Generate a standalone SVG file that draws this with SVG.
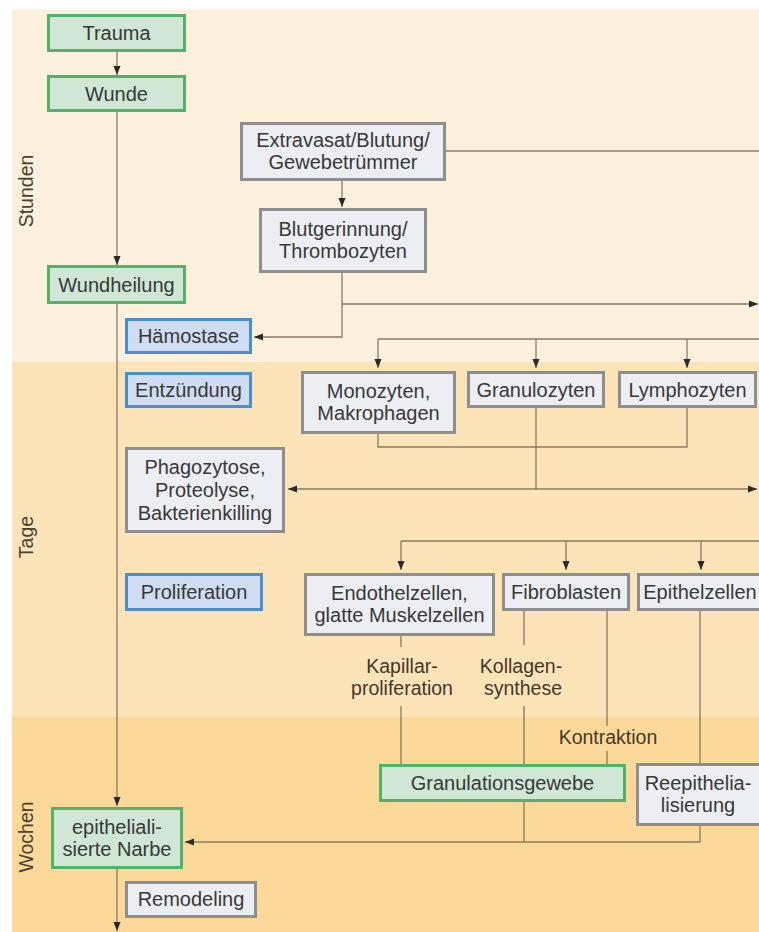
<svg xmlns="http://www.w3.org/2000/svg" width="759" height="932" viewBox="0 0 759 932">
<style>
.txt{font-family:"Liberation Sans",Arial,sans-serif;font-size:20px;fill:#383838;text-anchor:middle}
.lbl{font-family:"Liberation Sans",Arial,sans-serif;font-size:19.5px;fill:#45372a;text-anchor:middle}
.side{font-family:"Liberation Sans",Arial,sans-serif;font-size:19.5px;fill:#4a4232;text-anchor:middle}
.g{fill:#cfe7d4;stroke:#4fb36c;stroke-width:3}
.b{fill:#cfdcf1;stroke:#4a8ed0;stroke-width:3}
.n{fill:#eceef3;stroke:#8e8e8e;stroke-width:3}
.c{fill:none;stroke:#8a7a62;stroke-width:1.3}
</style>
<defs>
<marker id="ah" markerUnits="userSpaceOnUse" markerWidth="9" markerHeight="8" refX="9" refY="4" orient="auto">
<path d="M0,0.5 L9,4 L0,7.5 z" fill="#2a2a2a"/>
</marker>
<marker id="ahs" markerUnits="userSpaceOnUse" markerWidth="9" markerHeight="8" refX="0" refY="4" orient="auto">
<path d="M9,0.5 L0,4 L9,7.5 z" fill="#2a2a2a"/>
</marker>
</defs>
<rect x="0" y="0" width="759" height="932" fill="#ffffff"/>
<g id="bands">
<rect x="12" y="10" width="747" height="352" fill="#fdf1de"/>
<rect x="12" y="362" width="747" height="355" fill="#fde3b8"/>
<rect x="12" y="717" width="747" height="215" fill="#fcd998"/>
</g>
<g id="side-labels">
<text class="side" transform="translate(33,191) rotate(-90)">Stunden</text>
<text class="side" transform="translate(33,537) rotate(-90)">Tage</text>
<text class="side" transform="translate(33,837) rotate(-90)">Wochen</text>
</g>
<g id="connectors">
<path class="c" d="M117,52 V75" marker-end="url(#ah)"/>
<path class="c" d="M117,112 V265" marker-end="url(#ah)"/>
<path class="c" d="M117,304 V806" marker-end="url(#ah)"/>
<path class="c" d="M117,869 V931" marker-end="url(#ah)"/>
<path class="c" d="M446,151 H759"/>
<path class="c" d="M342,181 V207" marker-end="url(#ah)"/>
<path class="c" d="M342,273 V337 H254" marker-end="url(#ah)"/>
<path class="c" d="M342,304 H758" marker-end="url(#ah)"/>
<path class="c" d="M378,339 H759"/>
<path class="c" d="M378,339 V368" marker-end="url(#ah)"/>
<path class="c" d="M536,339 V368" marker-end="url(#ah)"/>
<path class="c" d="M687,339 V368" marker-end="url(#ah)"/>
<path class="c" d="M378,434 V447 H687 V408"/>
<path class="c" d="M536,408 V489"/>
<path class="c" d="M288,489 H757" marker-start="url(#ahs)" marker-end="url(#ah)"/>
<path class="c" d="M401,541 H759"/>
<path class="c" d="M401,541 V570" marker-end="url(#ah)"/>
<path class="c" d="M566,541 V570" marker-end="url(#ah)"/>
<path class="c" d="M701,541 V570" marker-end="url(#ah)"/>
<path class="c" d="M401,636 V647 M401,706 V764"/>
<path class="c" d="M524,611 V645 M524,706 V842"/>
<path class="c" d="M607,611 V726 M607,751 V764"/>
<path class="c" d="M700,611 V763 M700,826 V842 H185" marker-end="url(#ah)"/>
</g>
<g id="connector-labels">
<text class="lbl" x="402" y="673">Kapillar-</text>
<text class="lbl" x="402" y="695">proliferation</text>
<text class="lbl" x="521" y="673">Kollagen-</text>
<text class="lbl" x="523" y="695">synthese</text>
<text class="lbl" x="608" y="744">Kontraktion</text>
</g>
<g id="trauma"><rect class="g" x="48.5" y="15.5" width="136" height="35"/><text class="txt" x="116.5" y="40">Trauma</text></g>
<g id="wunde"><rect class="g" x="48.5" y="76.5" width="136" height="34"/><text class="txt" x="116.5" y="100.5">Wunde</text></g>
<g id="wundheilung"><rect class="g" x="48.5" y="266.5" width="136" height="36"/><text class="txt" x="116.5" y="291.5">Wundheilung</text></g>
<g id="haemostase"><rect class="b" x="126.5" y="319.5" width="124" height="33"/><text class="txt" x="188.5" y="343">Hämostase</text></g>
<g id="extravasat"><rect class="n" x="241.5" y="123.5" width="203" height="56"/><text class="txt" x="343" y="147">Extravasat/Blutung/</text><text class="txt" x="343" y="169">Gewebetrümmer</text></g>
<g id="blutgerinnung"><rect class="n" x="260.5" y="209.5" width="165" height="62"/><text class="txt" x="343" y="236">Blutgerinnung/</text><text class="txt" x="343" y="258">Thrombozyten</text></g>
<g id="entzuendung"><rect class="b" x="126.5" y="373.5" width="124" height="33"/><text class="txt" x="188.5" y="397">Entzündung</text></g>
<g id="monozyten"><rect class="n" x="302.5" y="372.5" width="152" height="60"/><text class="txt" x="378.5" y="398">Monozyten,</text><text class="txt" x="378.5" y="420">Makrophagen</text></g>
<g id="granulozyten"><rect class="n" x="468.5" y="372.5" width="135" height="34"/><text class="txt" x="536" y="396.5">Granulozyten</text></g>
<g id="lymphozyten"><rect class="n" x="619.5" y="372.5" width="136" height="34"/><text class="txt" x="687.5" y="396.5">Lymphozyten</text></g>
<g id="phagozytose"><rect class="n" x="126.5" y="448.5" width="157" height="83"/><text class="txt" x="205" y="474">Phagozytose,</text><text class="txt" x="205" y="497">Proteolyse,</text><text class="txt" x="205" y="520">Bakterienkilling</text></g>
<g id="proliferation"><rect class="b" x="126.5" y="574.5" width="135" height="35"/><text class="txt" x="194" y="599">Proliferation</text></g>
<g id="endothelzellen"><rect class="n" x="305.5" y="574.5" width="188" height="60"/><text class="txt" x="399.5" y="600">Endothelzellen,</text><text class="txt" x="399.5" y="622">glatte Muskelzellen</text></g>
<g id="fibroblasten"><rect class="n" x="503.5" y="574.5" width="125" height="35"/><text class="txt" x="566" y="599">Fibroblasten</text></g>
<g id="epithelzellen"><rect class="n" x="638.5" y="574.5" width="130" height="35"/><text class="txt" x="700" y="599">Epithelzellen</text></g>
<g id="granulationsgewebe"><rect class="g" x="380.5" y="765.5" width="244" height="35"/><text class="txt" x="502.5" y="790">Granulationsgewebe</text></g>
<g id="reepithelialisierung"><rect class="n" x="637.5" y="764.5" width="130" height="60"/><text class="txt" x="698" y="790">Reepithelia-</text><text class="txt" x="698" y="812">lisierung</text></g>
<g id="narbe"><rect class="g" x="52.5" y="808.5" width="129" height="59"/><text class="txt" x="117" y="834">epitheliali-</text><text class="txt" x="117" y="856">sierte Narbe</text></g>
<g id="remodeling"><rect class="n" x="126.5" y="882.5" width="129" height="34"/><text class="txt" x="191" y="906">Remodeling</text></g>
</svg>
